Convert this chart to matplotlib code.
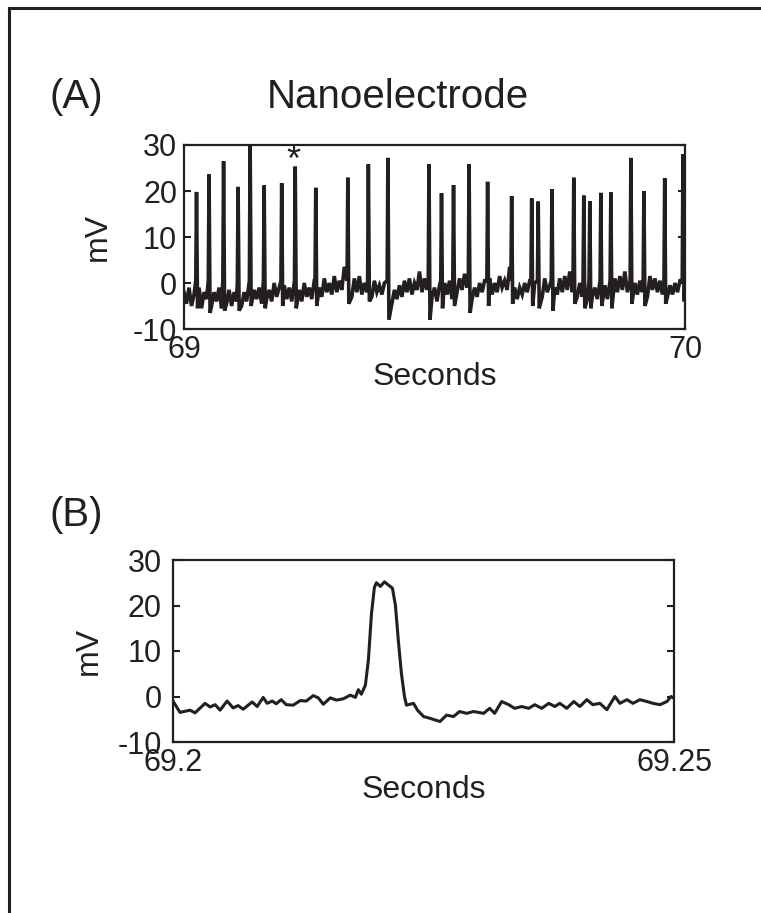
import numpy as np
import matplotlib.pyplot as plt
from matplotlib.lines import Line2D

plt.rcParams['font.family'] = ['Liberation Sans', 'DejaVu Sans']
plt.rcParams['axes.unicode_minus'] = False
ink = '#231f20'

# ---- panel A: 1 s of nanoelectrode recording (69 -> 70 s)
spike_t = [69.025, 69.050, 69.079, 69.108, 69.132, 69.160, 69.195, 69.222,
           69.263, 69.327, 69.368, 69.407, 69.489, 69.514, 69.538, 69.569,
           69.606, 69.654, 69.694, 69.707, 69.7345, 69.778, 69.798, 69.810,
           69.832, 69.852, 69.892, 69.918, 69.9595, 69.996]
spike_peak = [19.8, 23.6, 26.5, 20.9, 31.0, 21.2, 21.7, 25.3,
              20.7, 22.9, 25.8, 27.2, 25.8, 19.5, 21.3, 25.8,
              22.0, 18.9, 18.4, 17.7, 20.4, 22.9, 19.0, 17.8,
              19.6, 19.7, 27.2, 20.0, 22.8, 28.0]
spike_trough = [-5.5, -6.5, -6.0, -6.0, -5.0, -5.5, -5.0, -5.5,
                -5.0, -4.5, -4.0, -8.0, -8.0, -5.5, -5.0, -6.5,
                -5.0, -4.5, -5.0, -5.5, -6.0, -4.5, -5.5, -5.5,
                -5.0, -5.5, -4.5, -5.0, -4.5, -4.0]

# baseline read every 5 ms
base_v = [
    -2, -4.5, -1, -5, -2.5, -4, -1, -5.5, -2, -3.5,
    -1.5, -5, -2, -4, -1, -5.5, -2, -4.5, -1.5, -5,
    -2, -4, -0.5, -5, -2, -4, -1, -4.5, -1.5, -3.5,
    -1, -4.5, -0.5, -3.5, -1.5, -4, 0, -3, -1, -4,
    -0.5, -3.5, -1, -4, 0.5, -3, -1.5, -4, 0, -3,
    -1, -3.5, 0.5, -2.5, -1, -3, 1, -2, 0, -2.5,
    1.5, -2, 0.5, -1.5, 3.5, -2, 0.5, -3, 1, -2,
    1.5, -2.5, 0, -2, 1, -3, 0.5, -2, -0.5, -2.5,
    0, -3, -1, -4.5, -1.5, -3.5, -0.5, -3, 0.5, -2,
    1, -2.5, 0, -1.5, 2.5, -2, 1, -1.5, -1, -3,
    -1, -4, -0.5, -3, 0, -2.5, 0.5, -3.5, 0, -2,
    1, -1.5, 2, -1, 0, -3.5, -1, -3, 0, -2,
    0.5, -2, 1, -2.5, 0, -2, 1.5, -1, 0.5, -1.5,
    3.5, -1.5, -1, -3.5, -1, -2.5, 0, -2, 0.5, -3,
    0, -2.5, -0.5, -3, 1, -2, -0.5, -3.5, -1, -2.5,
    1, -2, 1.5, -1.5, 2.5, -2, -0.5, -3, 0, -3,
    -0.5, -3.5, 0, -3, -1, -3.5, 0, -2.5, -0.5, -3.5,
    0, -3, 1, -2, 1.5, -1.5, 2.5, -2, 0, -3,
    0, -2.5, 0.5, -2, -0.5, -3, 1.5, -1.5, 1, -2,
    0.5, -2.5, 1, -3, -0.5, -2.5, 0, -2, 0.5, -2,
    -1]
base_t = np.linspace(69.0, 70.0, len(base_v))

# ---- panel B: zoom on the starred spike (69.20 -> 69.25 s), times in ms after 69.2
b_ms = [0, 0.7, 1.7, 2.2, 3.2, 3.7, 4.2, 4.7, 5.4, 6.0, 6.5, 7.0, 7.9, 8.4,
        9.0, 9.4, 9.9, 10.3, 10.8, 11.3, 12.0, 12.7, 13.3, 14.0, 14.5, 15.0,
        15.7, 16.3, 17.0, 17.7, 18.2, 18.5, 18.8, 19.2, 19.5, 19.8, 20.1,
        20.3, 20.7, 21.1, 21.5, 21.9, 22.2, 22.5, 22.8, 23.1, 23.3, 24.0,
        24.4, 25.0, 25.65, 26.65, 27.3, 28.0, 28.6, 29.3, 30.0, 31.0, 31.6,
        32.1, 32.8, 33.5, 34.1, 34.8, 35.5, 36.1, 36.8, 37.5, 38.1, 38.6,
        39.3, 40.0, 40.6, 41.3, 41.9, 42.6, 43.3, 44.1, 44.6, 45.3, 45.9,
        46.6, 47.3, 47.9, 48.6, 49.3, 49.7, 50.0]
b_mv = [-1.0, -3.5, -3.0, -3.6, -1.5, -2.3, -1.8, -3.0, -1.0, -2.5, -2.0,
        -2.8, -1.2, -2.2, -0.2, -1.5, -1.0, -1.6, -0.7, -1.8, -1.9, -0.9,
        -1.0, 0.2, -0.3, -1.7, -0.3, -0.8, -0.5, 0.3, -0.2, 1.5, 0.5, 2.5,
        8.0, 18.0, 24.0, 25.0, 24.2, 25.2, 24.5, 23.8, 20.0, 12.0, 5.0, 0.0,
        -1.9, -1.5, -3.0, -4.4, -4.8, -5.5, -4.1, -4.4, -3.3, -3.7, -3.3,
        -3.7, -2.6, -3.7, -1.1, -1.8, -2.6, -2.2, -2.6, -1.8, -2.6, -1.5,
        -2.2, -1.5, -2.6, -1.1, -2.2, -0.7, -1.8, -1.5, -2.9, 0.0, -1.5,
        -0.7, -1.5, -0.7, -1.1, -1.5, -1.8, -1.1, 0.0, -0.4]

# merge baseline and spikes into one trace for A
pts = []
for t, v in zip(base_t, base_v):
    if not any(s - 0.003 < t < s + 0.004 for s in spike_t):
        pts.append((t, v))
for s, p, tr in zip(spike_t, spike_peak, spike_trough):
    pts.append((s - 0.0015, 0.5))
    pts.append((s, p))
    pts.append((min(s + 0.002, 70.0), tr))
pts.sort()
a_t = [p[0] for p in pts]
a_v = [p[1] for p in pts]

fig = plt.figure(figsize=(7.61, 9.13), dpi=100)

# outer frame (only left and top edges visible)
fig.add_artist(Line2D([9/761, 9/761], [0, 1 - 8/913], color=ink, lw=2.2))
fig.add_artist(Line2D([9/761, 1], [1 - 8/913, 1 - 8/913], color=ink, lw=2.2))


def style(ax, ypad, ylpad):
    for sp in ax.spines.values():
        sp.set_linewidth(1.6)
        sp.set_color(ink)
    ax.tick_params(direction='in', length=5, width=1.5, colors=ink,
                   labelsize=22, left=True, right=True, top=False, bottom=True)
    ax.tick_params(axis='y', pad=ypad)
    ax.tick_params(axis='x', pad=4)
    ax.set_ylim(-10, 30)
    ax.set_yticks([-10, 0, 10, 20, 30])
    ax.set_ylabel('mV', fontsize=23, color=ink, labelpad=ylpad)
    ax.set_xlabel('Seconds', fontsize=23, color=ink, labelpad=-2)


axA = fig.add_axes([184/761, 1 - 329/913, 501/761, 184/913])
axA.plot(a_t, a_v, color=ink, lw=2.6, solid_joinstyle='miter')
axA.set_xlim(69, 70)
axA.set_xticks([69, 70])
axA.set_xticklabels(['69', '70'])
style(axA, 5, 14)
axA.text(69.2176, 26.5, '*', fontsize=26, ha='center', va='center', color=ink)

axB = fig.add_axes([173/761, 1 - 742/913, 501/761, 182/913])
axB.plot([69.2 + m / 1000 for m in b_ms], b_mv, color=ink, lw=2.2)
axB.set_xlim(69.2, 69.25)
axB.set_xticks([69.2, 69.25])
axB.set_xticklabels(['69.2', '69.25'])
style(axB, 8, 10)

fig.text(76/761, 1 - 97/913, '(A)', fontsize=29, ha='center', va='center', color=ink)
fig.text(398/761, 1 - 97/913, 'Nanoelectrode', fontsize=29, ha='center', va='center', color=ink)
fig.text(76/761, 1 - 515/913, '(B)', fontsize=29, ha='center', va='center', color=ink)

fig.savefig('out.png', dpi=100)
